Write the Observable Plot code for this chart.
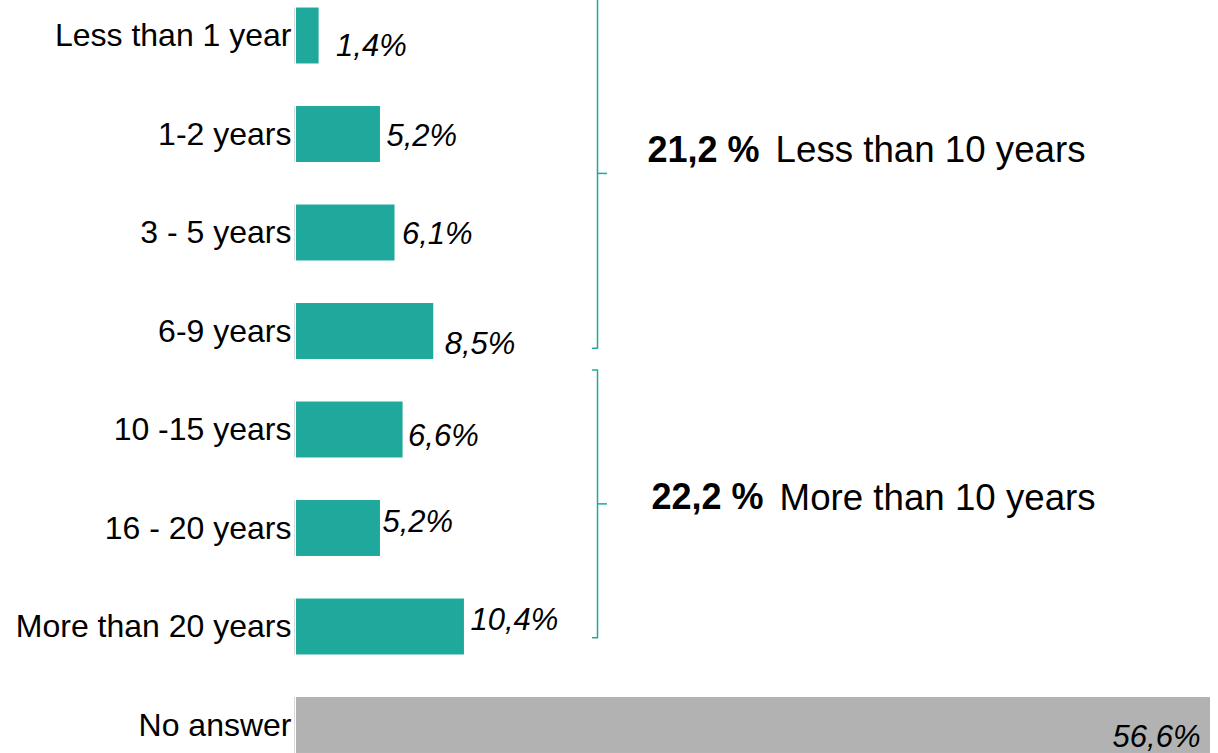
<!DOCTYPE html>
<html>
<head>
<meta charset="utf-8">
<script src="https://cdn.jsdelivr.net/npm/d3@7"></script>
<script src="https://cdn.jsdelivr.net/npm/@observablehq/plot@0.6"></script>
<style>
  html, body { margin: 0; padding: 0; background: #fff; overflow: hidden; }
  #chart svg { display: block; }
</style>
</head>
<body>
<div id="chart"></div>
<script>
// ---- data ----
const categories = ["Less than 1 year", "1-2 years", "3 - 5 years", "6-9 years", "10 -15 years", "16 - 20 years", "More than 20 years", "No answer"];
const values = [1.4, 5.2, 6.1, 8.5, 6.6, 5.2, 10.4, 56.6];
const valueLabels = ["1,4%", "5,2%", "6,1%", "8,5%", "6,6%", "5,2%", "10,4%", "56,6%"];
const groupPercents = ["21,2 %", "22,2 %"];
const groupTexts = ["Less than 10 years", "More than 10 years"];
const groupFrom = [0, 4];
const groupTo = [3, 6];

// ---- styling ----
const teal = "#1FA99C";
const grey = "#B2B2B2";
const font = "Liberation Sans, Arial, sans-serif";
const halfBar = 0.284;           // half bar thickness (row units)
const bracketX = 18.64;          // bracket position (x units)
const hook = 0.31;               // bracket end hooks (x units)
const midTick = 0.62;            // bracket middle tick (x units)
const bracketPad = [[0.38, 0.17], [0.61, 0.11]];
const labelNudge = [[17, 10], [6, 2], [7, 1], [11, 13], [5, 6], [2, -6], [6, -7], [-10, 12]];
const annotDx = [50, 54];
const annotDy = [-23, -6];
const annotSize = 36;
const annotSize2 = 36.7;

const rows = categories.map((c, i) => ({i, cat: c, value: values[i], label: valueLabels[i],
  fill: c === "No answer" ? grey : teal}));

const groups = groupFrom.map((f, g) => {
  const top = f - bracketPad[g][0];
  const bottom = groupTo[g] + bracketPad[g][1];
  return {g, top, bottom, mid: (top + bottom) / 2, pct: groupPercents[g], text: groupTexts[g]};
});
const bracketPts = groups.flatMap(d => [
  {g: d.g, x: bracketX - hook, y: d.top},
  {g: d.g, x: bracketX, y: d.top},
  {g: d.g, x: bracketX, y: d.bottom},
  {g: d.g, x: bracketX - hook, y: d.bottom}
]);

// measure bold text width for placing the regular part after it
const ctx = document.createElement("canvas").getContext("2d");
function textW(s, weight) {
  ctx.font = `${weight} ${annotSize}px "Liberation Sans", Arial, sans-serif`;
  return ctx.measureText(s).width;
}
const spaceW = textW(" ", "normal");

const marks = [
  Plot.rect(rows, {x1: d => 0, x2: "value", y1: d => d.i - halfBar, y2: d => d.i + halfBar, fill: "fill"}),
  Plot.ruleX(rows, {x: d => 0, y1: d => d.i - halfBar, y2: d => d.i + halfBar, dx: -2, stroke: "#D9D9D9", strokeWidth: 1}),
  Plot.text(rows, {x: d => 0, y: "i", text: "cat", dx: -5, textAnchor: "end", fontSize: 32, fill: "#000"}),
  ...rows.map((r, k) => Plot.text([r], {x: "value", y: "i", text: "label", dx: labelNudge[k][0], dy: labelNudge[k][1],
    textAnchor: k === rows.length - 1 ? "end" : "start", fontStyle: "italic", fontSize: 31, fill: "#000"})),
  Plot.line(bracketPts, {x: "x", y: "y", z: "g", stroke: teal, strokeWidth: 1.5}),
  Plot.ruleY(groups, {y: "mid", x1: d => bracketX, x2: d => bracketX + midTick, stroke: teal, strokeWidth: 1.5}),
  ...groups.map((d, g) => Plot.text([d], {x: d => bracketX, y: "mid", text: "pct", dx: annotDx[g], dy: annotDy[g],
    textAnchor: "start", fontWeight: "bold", fontSize: annotSize, fill: "#000"})),
  ...groups.map((d, g) => Plot.text([d], {x: d => bracketX, y: "mid", text: "text",
    dx: annotDx[g] + textW(d.pct, "bold") + spaceW + 6, dy: annotDy[g],
    textAnchor: "start", fontSize: annotSize2, fill: "#000"}))
];

const chart = Plot.plot({
  width: 1218,
  height: 753,
  marginLeft: 296,
  marginRight: 8,
  marginTop: 0,
  marginBottom: 0,
  style: {fontFamily: font, background: "#fff", overflow: "visible"},
  x: {domain: [0, 56.6], range: [296, 1210], axis: null},
  y: {domain: [-0.3604, 7.2843], range: [0, 753], axis: null},
  color: {type: "identity"},
  marks
});
document.getElementById("chart").appendChild(chart);
</script>
</body>
</html>
